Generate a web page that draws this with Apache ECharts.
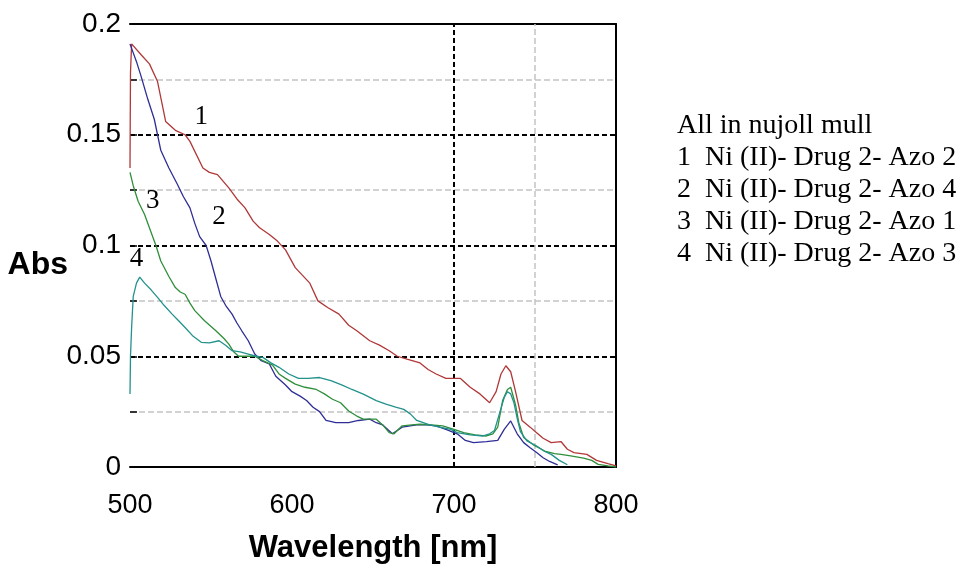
<!DOCTYPE html>
<html>
<head>
<meta charset="utf-8">
<script src="https://cdn.jsdelivr.net/npm/echarts@6/dist/echarts.min.js"></script>
<style>
html,body{margin:0;padding:0;background:#fff;}
#chart{width:962px;height:574px;}
</style>
</head>
<body>
<div id="chart"></div>
<script>
// ---- data (wavelength nm, absorbance) ----
const curve1 = [[500,0.135],[500.3,0.178],[501,0.191],[507,0.186],[512,0.182],[517,0.174],[522,0.156],[528,0.152],[534,0.150],[537,0.147],[545,0.135],[549,0.133],[554,0.132],[561,0.126],[566,0.121],[571,0.117],[576,0.111],[580,0.108],[586,0.105],[591,0.102],[596,0.098],[602,0.090],[611,0.083],[616,0.075],[622,0.072],[629,0.069],[635,0.064],[640,0.0615],[648,0.057],[654,0.055],[660,0.0525],[665,0.050],[671,0.0487],[679,0.047],[684,0.044],[689,0.042],[695,0.040],[704,0.040],[710,0.036],[716,0.033],[722,0.029],[726,0.034],[729,0.042],[732,0.0457],[735,0.043],[738,0.034],[742,0.021],[747,0.018],[751,0.0155],[755,0.013],[760,0.011],[766,0.0115],[770,0.008],[774,0.0065],[782,0.0057],[788,0.003],[795,0.0015],[800,0.0005]];
const curve2 = [[500,0.191],[501,0.189],[504,0.183],[507,0.176],[511,0.166],[515,0.157],[519,0.143],[524,0.135],[529,0.128],[533,0.122],[537,0.117],[540,0.110],[543,0.104],[547,0.100],[550,0.093],[553,0.085],[556,0.077],[559,0.073],[563,0.069],[566,0.065],[569,0.0615],[573,0.057],[577,0.051],[581,0.048],[586,0.0465],[590,0.041],[596,0.037],[600,0.034],[605,0.032],[609,0.030],[613,0.027],[617,0.025],[621,0.021],[627,0.020],[635,0.020],[641,0.021],[648,0.0216],[652,0.020],[656,0.019],[662,0.015],[668,0.018],[677,0.019],[683,0.019],[689,0.0186],[695,0.017],[702,0.015],[707,0.012],[712,0.011],[720,0.0115],[727,0.012],[731,0.017],[735,0.0208],[739,0.015],[743,0.011],[747,0.0087],[751,0.0065],[755,0.0042],[759,0.0025],[764,0.001]];
const curve3 = [[500,0.133],[502,0.127],[505,0.120],[509,0.114],[513,0.106],[516,0.100],[519,0.093],[524,0.086],[528,0.081],[531,0.079],[534,0.078],[537,0.074],[540,0.0706],[546,0.066],[553,0.0615],[558,0.058],[561,0.0555],[564,0.052],[567,0.050],[572,0.050],[577,0.050],[582,0.048],[588,0.046],[592,0.042],[596,0.040],[602,0.0374],[608,0.036],[615,0.035],[620,0.033],[625,0.0306],[630,0.029],[635,0.0253],[640,0.023],[644,0.0216],[652,0.0216],[656,0.019],[660,0.0155],[663,0.015],[668,0.0186],[674,0.019],[679,0.0193],[686,0.019],[693,0.0186],[700,0.017],[706,0.0155],[713,0.0145],[720,0.014],[724,0.015],[727,0.018],[730,0.030],[733,0.035],[735,0.036],[738,0.028],[740,0.020],[743,0.0133],[749,0.010],[756,0.0072],[762,0.006],[766,0.0057],[772,0.005],[780,0.004],[785,0.003],[789,0.0012],[795,0.0005],[800,0]];
const curve4 = [[500,0.033],[500.3,0.050],[501,0.063],[502,0.077],[504,0.083],[506,0.0857],[509,0.083],[513,0.080],[517,0.0766],[521,0.073],[526,0.069],[530,0.066],[534,0.063],[539,0.059],[544,0.0563],[549,0.056],[555,0.057],[559,0.055],[563,0.0525],[568,0.052],[573,0.051],[578,0.050],[582,0.0495],[587,0.047],[592,0.045],[598,0.042],[604,0.040],[610,0.040],[617,0.0404],[624,0.039],[631,0.037],[637,0.035],[644,0.0329],[652,0.030],[658,0.0284],[664,0.027],[669,0.026],[673,0.024],[677,0.021],[685,0.019],[691,0.018],[698,0.017],[702,0.0155],[710,0.0145],[718,0.014],[722,0.015],[725,0.0165],[728,0.024],[731,0.0314],[733,0.034],[735,0.033],[737,0.029],[739,0.022],[741,0.016],[745,0.0118],[751,0.0095],[756,0.007],[760,0.0057],[765,0.003],[770,0.001]];

const seriesNames = ['1', '2', '3', '4'];
// curve number labels placed in data coordinates [wavelength, abs]
const labelPos = [[544, 0.158], [555, 0.113], [514, 0.120], [504, 0.094]];
const legendLines = [
  'All in nujoll mull',
  '1  Ni (II)- Drug 2- Azo 2',
  '2  Ni (II)- Drug 2- Azo 4',
  '3  Ni (II)- Drug 2- Azo 1',
  '4  Ni (II)- Drug 2- Azo 3'
];
const xTicks = [500, 600, 700, 800];
const yTicks = [0, 0.05, 0.1, 0.15, 0.2];
const vGridDark = [700];
const vGridLight = [750];

// ---- styles ----
const colors = ['#b03838', '#2e2e96', '#2f8f3a', '#23928c'];
const sans = '"Liberation Sans", Arial, sans-serif';
const serif = '"Liberation Serif", "Times New Roman", serif';

const chart = echarts.init(document.getElementById('chart'));
const curves = [curve1, curve2, curve3, curve4];

const series = curves.map((c, i) => ({
  name: seriesNames[i],
  type: 'line',
  data: c,
  showSymbol: false,
  symbol: 'none',
  silent: true,
  z: 5,
  lineStyle: { color: colors[i], width: 1.3 },
  itemStyle: { color: colors[i] },
  markPoint: {
    symbol: 'circle',
    symbolSize: 1,
    itemStyle: { color: 'rgba(0,0,0,0)' },
    silent: true,
    label: {
      show: true, position: 'inside', formatter: '{b}',
      color: '#000', fontFamily: serif, fontSize: 27
    },
    data: [{ name: seriesNames[i], coord: labelPos[i] }]
  }
}));

series[0].markLine = {
  silent: true,
  symbol: ['none', 'none'],
  label: { show: false },
  z: 1,
  data: vGridDark.map(v => ({ xAxis: v, lineStyle: { color: '#000', type: [5, 3], width: 2 } }))
    .concat(vGridLight.map(v => ({ xAxis: v, lineStyle: { color: '#c4c4c4', type: [6, 3], width: 1.5 } })))
};

chart.setOption({
  animation: false,
  backgroundColor: '#fff',
  grid: { left: 130, right: 346, top: 24, bottom: 107, containLabel: false, outerBoundsMode: 'none' },
  xAxis: [{
    type: 'value', min: 500, max: 800, interval: 100,
    name: 'Wavelength [nm]', nameLocation: 'middle', nameGap: 66, nameMoveOverlap: false,
    nameTextStyle: { fontFamily: sans, fontWeight: 'bold', fontSize: 31, color: '#000' },
    axisLine: { show: true, lineStyle: { color: '#000', width: 2 } },
    axisTick: { show: false },
    axisLabel: {
      margin: 25, fontFamily: sans, fontSize: 27, color: '#000',
      formatter: v => (xTicks.indexOf(v) >= 0 ? String(v) : '')
    },
    splitLine: { show: false }
  }, {
    type: 'value', min: 500, max: 800, position: 'top',
    axisLine: { show: true, onZero: false, lineStyle: { color: '#000', width: 2 } },
    axisTick: { show: false }, axisLabel: { show: false }, splitLine: { show: false }
  }],
  yAxis: [{
    type: 'value', min: 0, max: 0.2, interval: 0.05,
    name: 'Abs', nameLocation: 'middle', nameRotate: 0, nameGap: 62, nameMoveOverlap: false,
    nameTextStyle: { fontFamily: sans, fontWeight: 'bold', fontSize: 32, color: '#000', verticalAlign: 'top', padding: [4, 0, 0, 0] },
    axisLine: { show: false },
    axisTick: { show: true, inside: true, length: 7, lineStyle: { color: '#000', width: 1.5 } },
    minorTick: { show: true, splitNumber: 2, length: 7, lineStyle: { color: '#000', width: 1.5 } },
    axisLabel: {
      margin: 9, fontFamily: sans, fontSize: 28, color: '#000',
      formatter: v => {
        const r = Math.round(v * 1000) / 1000;
        return yTicks.indexOf(r) >= 0 ? String(r) : '';
      }
    },
    splitLine: { show: true, lineStyle: { color: '#000', type: [5, 3], width: 2 } },
    minorSplitLine: { show: true, lineStyle: { color: '#c4c4c4', type: [6, 3], width: 1.5 } }
  }, {
    type: 'value', min: 0, max: 0.2, position: 'right',
    axisLine: { show: true, onZero: false, lineStyle: { color: '#000', width: 2 } },
    axisTick: { show: false }, axisLabel: { show: false }, splitLine: { show: false }
  }],
  graphic: [{
    type: 'text', left: 677, top: 110, silent: true,
    style: {
      text: legendLines.join('\n'),
      font: '28px ' + serif,
      lineHeight: 32,
      fill: '#000'
    }
  }],
  series: series
});
</script>
</body>
</html>
